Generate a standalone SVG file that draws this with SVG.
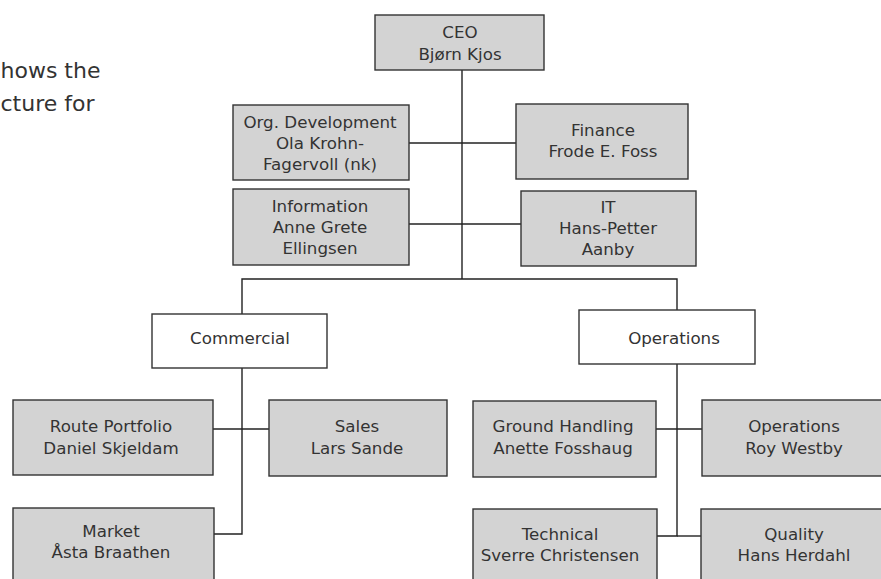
<svg xmlns="http://www.w3.org/2000/svg" width="881" height="579" viewBox="0 0 881 579">
  <style>
    .box { fill: #d3d3d3; stroke: #333; stroke-width: 1.4; }
    .head { fill: #fff; stroke: #333; stroke-width: 1.4; }
    .lbl { font-family: "DejaVu Sans", Verdana, sans-serif; font-size: 16.7px; fill: #333; text-anchor: middle; }
    .para { font-family: "DejaVu Sans", Verdana, sans-serif; font-size: 22px; fill: #333; }
    .wire { fill: none; stroke: #222; stroke-width: 1.4; }
  </style>

  <!-- intro paragraph fragment at the left margin -->
  <text class="para" x="0.5" y="78">hows the</text>
  <text class="para" x="0.5" y="111">cture for</text>

  <!-- reporting lines -->
  <g id="connectors">
    <path class="wire" d="M462 70 V279"/>
    <path class="wire" d="M409 143 H516"/>
    <path class="wire" d="M409 224 H521"/>
    <path class="wire" d="M242 314 V279 H677 V310"/>
    <path class="wire" d="M242 368 V534 H214"/>
    <path class="wire" d="M213 429 H269"/>
    <path class="wire" d="M677 364 V536 H657"/>
    <path class="wire" d="M656 429 H702"/>
    <path class="wire" d="M677 536 H701"/>
  </g>

  <g id="ceo">
    <rect class="box" x="375" y="15" width="169" height="55"/>
    <text class="lbl" x="460" y="38">CEO</text>
    <text class="lbl" x="460" y="60">Bjørn Kjos</text>
  </g>

  <g id="org-development">
    <rect class="box" x="233" y="105" width="176" height="75"/>
    <text class="lbl" x="320" y="128">Org. Development</text>
    <text class="lbl" x="320" y="149">Ola Krohn-</text>
    <text class="lbl" x="320" y="170">Fagervoll (nk)</text>
  </g>

  <g id="finance">
    <rect class="box" x="516" y="104" width="172" height="75"/>
    <text class="lbl" x="603" y="136">Finance</text>
    <text class="lbl" x="603" y="157">Frode E. Foss</text>
  </g>

  <g id="information">
    <rect class="box" x="233" y="189" width="176" height="76"/>
    <text class="lbl" x="320" y="212">Information</text>
    <text class="lbl" x="320" y="233">Anne Grete</text>
    <text class="lbl" x="320" y="254">Ellingsen</text>
  </g>

  <g id="it">
    <rect class="box" x="521" y="191" width="175" height="75"/>
    <text class="lbl" x="608" y="213">IT</text>
    <text class="lbl" x="608" y="234">Hans-Petter</text>
    <text class="lbl" x="608" y="255">Aanby</text>
  </g>

  <g id="commercial">
    <rect class="head" x="152" y="314" width="175" height="54"/>
    <text class="lbl" x="240" y="344">Commercial</text>
  </g>

  <g id="operations">
    <rect class="head" x="579" y="310" width="176" height="54"/>
    <text class="lbl" x="674" y="344">Operations</text>
  </g>

  <g id="route-portfolio">
    <rect class="box" x="13" y="400" width="200" height="75"/>
    <text class="lbl" x="111" y="432">Route Portfolio</text>
    <text class="lbl" x="111" y="454">Daniel Skjeldam</text>
  </g>

  <g id="sales">
    <rect class="box" x="269" y="400" width="178" height="76"/>
    <text class="lbl" x="357" y="432">Sales</text>
    <text class="lbl" x="357" y="454">Lars Sande</text>
  </g>

  <g id="market">
    <rect class="box" x="13" y="508" width="201" height="90"/>
    <text class="lbl" x="111" y="537">Market</text>
    <text class="lbl" x="111" y="558">Åsta Braathen</text>
  </g>

  <g id="ground-handling">
    <rect class="box" x="473" y="401" width="183" height="76"/>
    <text class="lbl" x="563" y="432">Ground Handling</text>
    <text class="lbl" x="563" y="454">Anette Fosshaug</text>
  </g>

  <g id="flight-operations">
    <rect class="box" x="702" y="400" width="182" height="76"/>
    <text class="lbl" x="794" y="432">Operations</text>
    <text class="lbl" x="794" y="454">Roy Westby</text>
  </g>

  <g id="technical">
    <rect class="box" x="473" y="509" width="184" height="90"/>
    <text class="lbl" x="560" y="540">Technical</text>
    <text class="lbl" x="560" y="561">Sverre Christensen</text>
  </g>

  <g id="quality">
    <rect class="box" x="701" y="509" width="183" height="90"/>
    <text class="lbl" x="794" y="540">Quality</text>
    <text class="lbl" x="794" y="561">Hans Herdahl</text>
  </g>
</svg>
